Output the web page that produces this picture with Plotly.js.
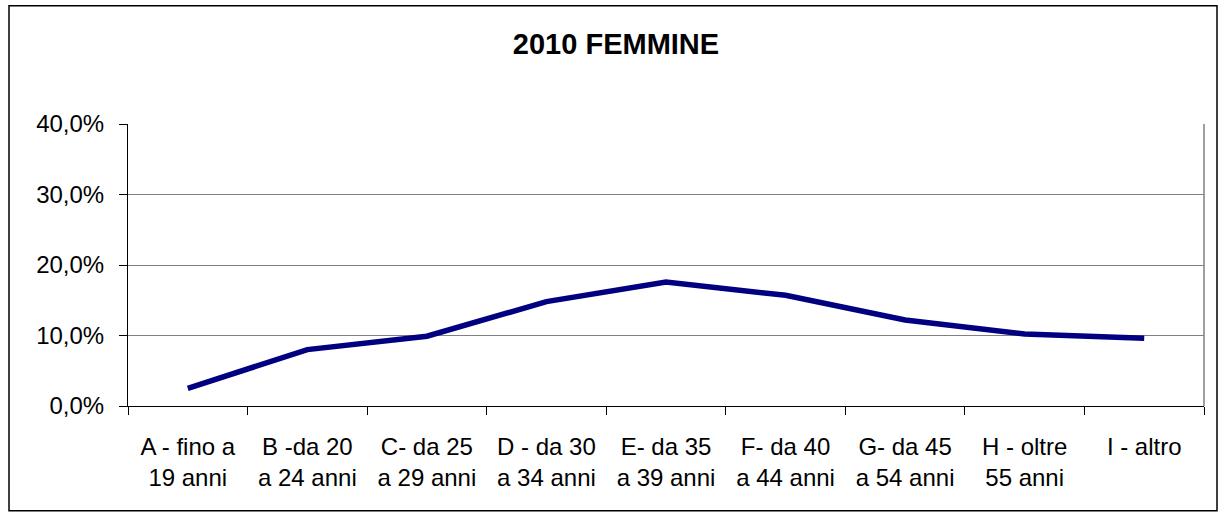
<!DOCTYPE html>
<html>
<head>
<meta charset="utf-8">
<script src="https://cdn.plot.ly/plotly-3.0.1.min.js"></script>
<style>html,body{margin:0;padding:0;background:#fff;}#chart{width:1223px;height:518px;}</style>
</head>
<body>
<div id="chart"></div>
<script>
// Data
const categories = ["A", "B", "C", "D", "E", "F", "G", "H", "I"];
const tickLabels = [
  "A - fino a<br>19 anni",
  "B -da 20<br>a 24 anni",
  "C- da 25<br>a 29 anni",
  "D - da 30<br>a 34 anni",
  "E- da 35<br>a 39 anni",
  "F- da 40<br>a 44 anni",
  "G- da 45<br>a 54 anni",
  "H - oltre<br>55 anni",
  "I - altro"
];
const values = [2.5, 8.0, 9.9, 14.8, 17.6, 15.7, 12.2, 10.2, 9.6];
const yTicks = [0, 10, 20, 30, 40];
const yTickLabels = ["0,0%", "10,0%", "20,0%", "30,0%", "40,0%"];

const L = 128, R = 19, T = 123.5, B = 112;
const W = 1223, H = 518;
const pw = W - L - R, ph = H - T - B;
const px = v => (v - L) / pw;
const py = v => (H - B - v) / ph;

const trace = {
  x: categories,
  y: values,
  type: "scatter",
  mode: "lines",
  line: {color: "#000080", width: 5.5},
  hoverinfo: "skip"
};

const layout = {
  width: W, height: H,
  margin: {l: L, r: R, t: T, b: B},
  paper_bgcolor: "#ffffff",
  plot_bgcolor: "#ffffff",
  showlegend: false,
  font: {family: "Liberation Sans, Arial, sans-serif", color: "#000000", size: 24},
  title: {
    text: "<b>2010 FEMMINE</b>",
    font: {family: "Liberation Sans, Arial, sans-serif", size: 29, color: "#000000"},
    x: 616 / W, xanchor: "center", xref: "container",
    y: 1 - 44 / H, yanchor: "middle", yref: "container"
  },
  xaxis: {
    type: "category",
    tickmode: "array",
    tickvals: categories,
    ticktext: tickLabels,
    tickson: "boundaries",
    ticks: "outside", ticklen: 8, tickcolor: "#000000", tickwidth: 1,
    showline: true, linecolor: "#000000", linewidth: 1,
    showgrid: false, zeroline: false,
    range: [-0.5, 8.5],
    tickangle: 0,
    tickfont: {size: 24},
    ticklabelstandoff: 19,
    fixedrange: true
  },
  yaxis: {
    range: [0, 40],
    tickmode: "array",
    tickvals: yTicks,
    ticktext: yTickLabels,
    ticks: "outside", ticklen: 8, tickcolor: "#000000", tickwidth: 1,
    showline: true, linecolor: "#000000", linewidth: 1,
    showgrid: true, gridcolor: "#808080", gridwidth: 1,
    zeroline: false,
    tickfont: {size: 24},
    ticklabelstandoff: 10,
    fixedrange: true
  },
  shapes: [
    {type: "rect", xref: "paper", yref: "paper",
     x0: px(9), x1: px(1217), y0: py(511), y1: py(5),
     line: {color: "#000000", width: 1.5}, fillcolor: "rgba(0,0,0,0)", layer: "below"},
    {type: "line", xref: "paper", yref: "paper",
     x0: 1, x1: 1, y0: 0, y1: 1,
     line: {color: "#808080", width: 1.5}, layer: "below"}
  ]
};

Plotly.newPlot("chart", [trace], layout, {displayModeBar: false, staticPlot: true});
</script>
</body>
</html>
